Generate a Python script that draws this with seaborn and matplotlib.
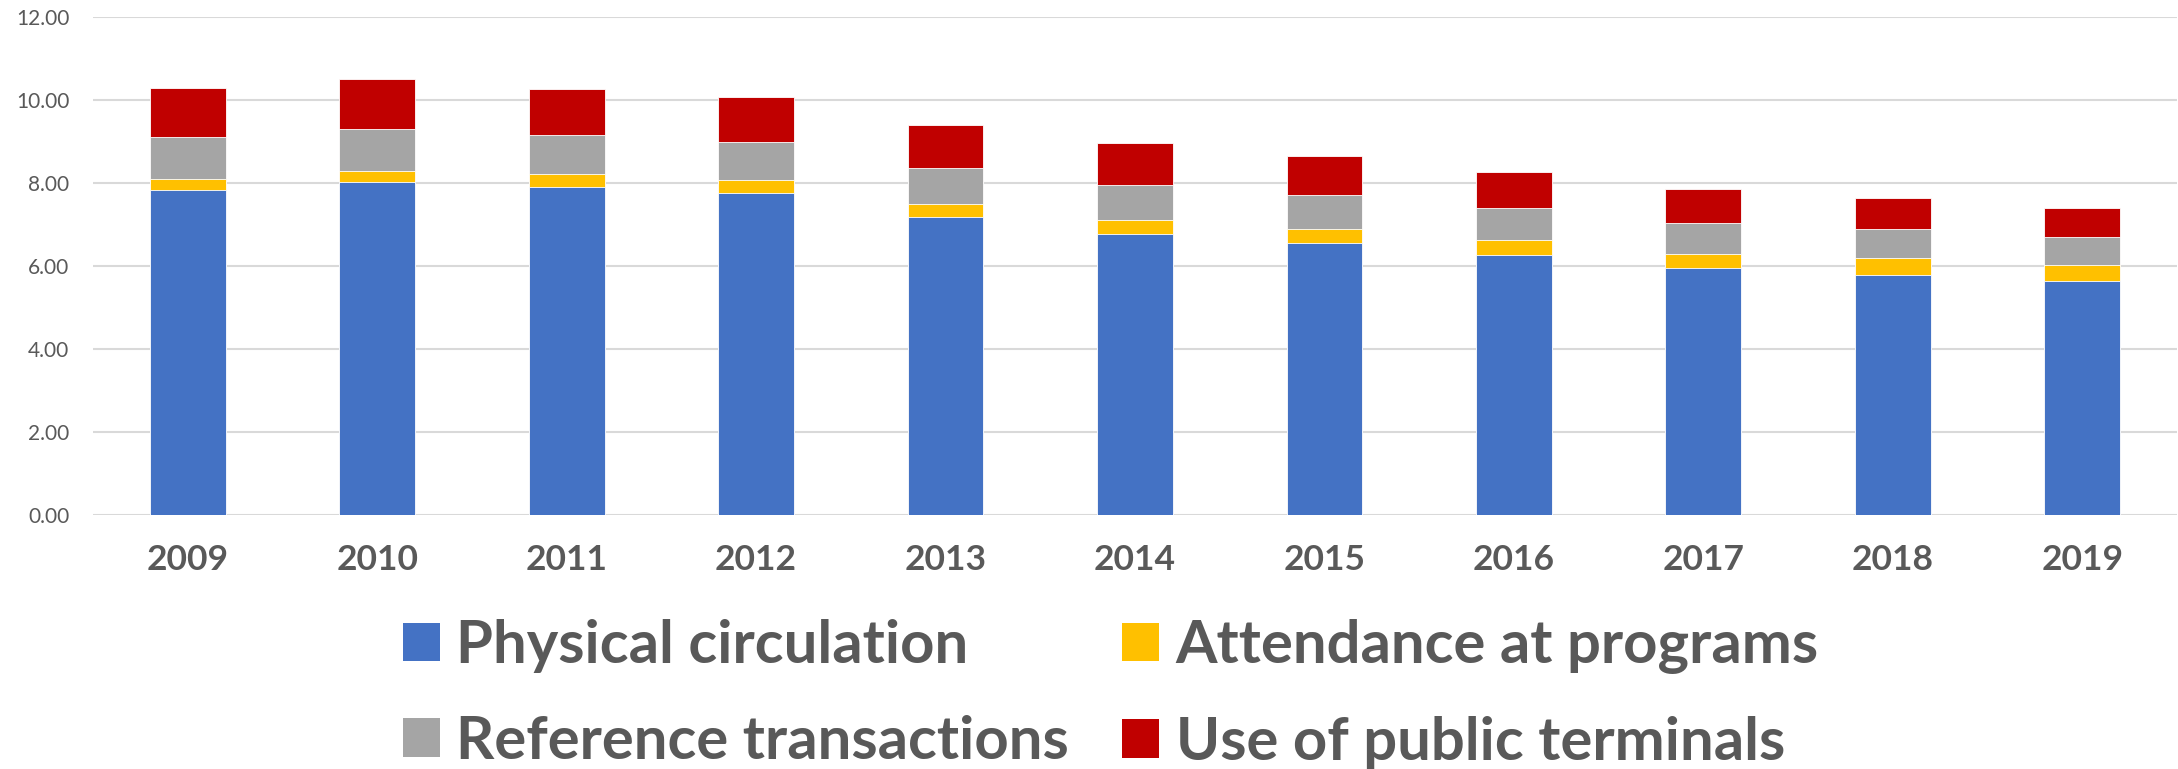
import seaborn as sns
import matplotlib.pyplot as plt
import numpy as np
import pandas as pd
from matplotlib.patches import Patch

years = ["2009", "2010", "2011", "2012", "2013", "2014", "2015", "2016", "2017", "2018", "2019"]
physical = [7.82, 8.02, 7.90, 7.76, 7.18, 6.77, 6.54, 6.26, 5.94, 5.79, 5.63]
attendance = [0.28, 0.27, 0.30, 0.30, 0.32, 0.34, 0.35, 0.37, 0.35, 0.39, 0.39]
reference = [1.00, 1.00, 0.94, 0.93, 0.85, 0.83, 0.81, 0.76, 0.75, 0.71, 0.68]
terminals = [1.18, 1.20, 1.11, 1.07, 1.05, 1.01, 0.95, 0.87, 0.81, 0.74, 0.69]

names = ["Physical circulation", "Attendance at programs", "Reference transactions", "Use of public terminals"]
colors = ["#4472C4", "#FFC000", "#A5A5A5", "#C00000"]

sns.set_theme(style="white")
plt.rcParams['font.family'] = ['Lato', 'DejaVu Sans']

df = pd.DataFrame({"year": years, names[0]: physical, names[1]: attendance,
                   names[2]: reference, names[3]: terminals})
# cumulative tops, drawn from the tallest down so each bar covers the ones below
tops = df[names].cumsum(axis=1)

fig = plt.figure(figsize=(21.78, 7.69), dpi=100)
ax = fig.add_axes([0.0427, 0.3303, 0.9568, 0.648])

for name, col in zip(names[::-1], colors[::-1]):
    sns.barplot(x=df["year"], y=tops[name], color=col, saturation=1, width=0.4, ax=ax,
                edgecolor="white", linewidth=0.6, zorder=3)

ax.set_ylim(0, 12)
ax.set_yticks(np.arange(0, 13, 2))
ax.set_yticklabels([f"{v:.2f}" for v in np.arange(0, 13, 2)])
ax.grid(axis="y", color="#D9D9D9", linewidth=1.5, zorder=0)
ax.set_axisbelow(True)
for s in ax.spines.values():
    s.set_visible(False)
ax.set_xlabel("")
ax.set_ylabel("")
ax.tick_params(axis="y", length=0, pad=17, labelsize=15, labelcolor="#595959")
ax.tick_params(axis="x", length=0, pad=21, labelsize=25.5, labelcolor="#595959")
for lab in ax.get_xticklabels():
    lab.set_fontweight("bold")

order = [0, 2, 1, 3]
handles = [Patch(facecolor=colors[i], edgecolor="none") for i in order]
labels = [names[i] for i in order]
leg = fig.legend(handles, labels, ncol=2, loc="center", bbox_to_anchor=(0.51, 0.097),
                 frameon=False, prop={"weight": "bold", "size": 43},
                 handlelength=0.62, handleheight=0.62, handletextpad=0.27,
                 columnspacing=0.9, labelspacing=0.7, borderpad=0)
for t in leg.get_texts():
    t.set_color("#595959")

fig.savefig("out.png", dpi=100)
